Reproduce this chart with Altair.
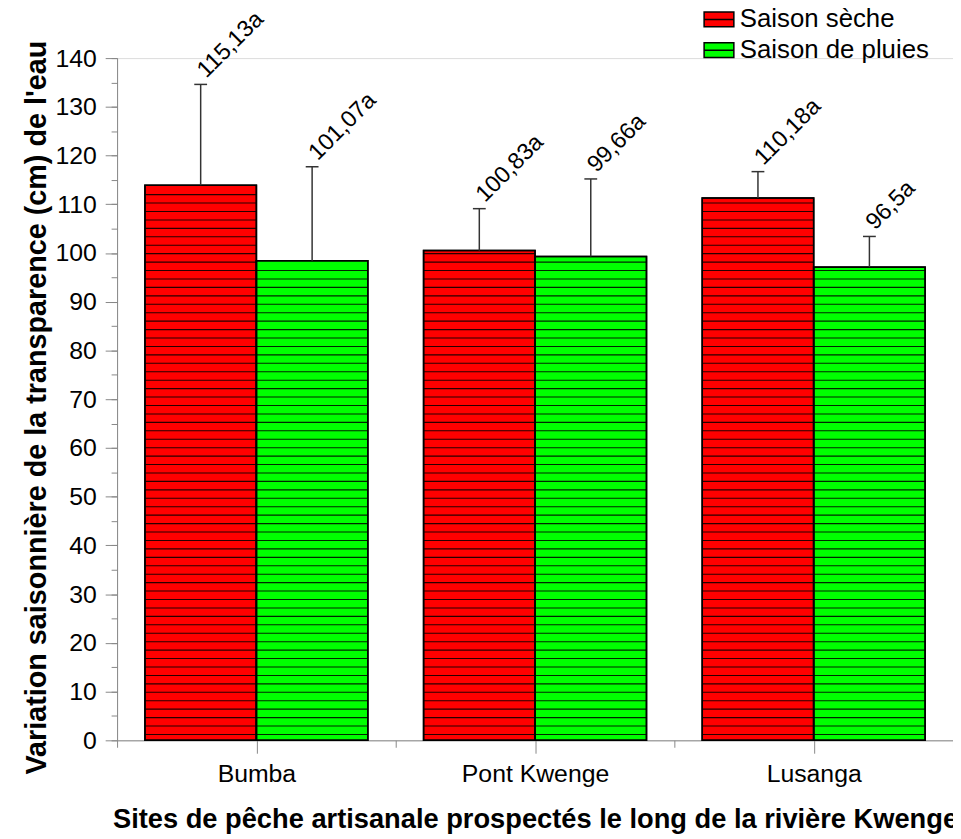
import altair as alt
import pandas as pd
import numpy as np

# ---- data ----
sites = ["Bumba", "Pont Kwenge", "Lusanga"]
seasons = ["Saison sèche", "Saison de pluies"]
dry_mean = [113.9, 100.5, 111.3]
wet_mean = [98.4, 99.3, 97.1]
dry_sd = [20.7, 8.6, 5.4]
wet_sd = [19.3, 15.9, 6.3]
dry_labels = ["115,13a", "100,83a", "110,18a"]
wet_labels = ["101,07a", "99,66a", "96,5a"]
colors = ["#FF0000", "#00FF00"]
y_major = list(range(0, 141, 10))
y_minor = list(range(0, 141, 5))
x_major = [1, 2, 3]
x_minor = [0.5, 1.5, 2.5, 3.5]

FONT = "Liberation Sans"

rows = []
for i, s in enumerate(sites):
    rows.append(dict(site=s, idx=i + 1, season=seasons[0], mean=dry_mean[i], sd=dry_sd[i],
                     label=dry_labels[i], off=-0.4))
    rows.append(dict(site=s, idx=i + 1, season=seasons[1], mean=wet_mean[i], sd=wet_sd[i],
                     label=wet_labels[i], off=0.0))
df = pd.DataFrame(rows)

# decorative horizontal hatching inside each bar
hatch_step = 1.731
hatch_rows = []
for r in rows:
    lv = 1.2
    while lv < r["mean"] - 0.3:
        hatch_rows.append(dict(idx=r["idx"], off=r["off"], level=lv))
        lv += hatch_step
hatch = pd.DataFrame(hatch_rows)

xscale = alt.Scale(domain=[0.5, 3.5], nice=False, zero=False)
yscale = alt.Scale(domain=[0, 140], nice=False)

major_x = alt.Axis(values=x_major,
                   labelExpr="['', 'Bumba', 'Pont Kwenge', 'Lusanga'][datum.value]",
                   tickSize=13, labelPadding=9, labelFontSize=25, labelFont=FONT,
                   title="Sites de pêche artisanale prospectés le long de la rivière Kwenge",
                   titleFontSize=27.5, titleFont=FONT, titleFontWeight="bold", titlePadding=19,
                   grid=False, orient="bottom")
minor_x = alt.Axis(values=x_minor, tickSize=7, labels=False, domain=False, title=None,
                   grid=False, orient="bottom")
major_y = alt.Axis(values=y_major, tickSize=12, labelPadding=9, labelFontSize=25, labelFont=FONT,
                   title="Variation saisonnière de la transparence (cm) de l'eau",
                   titleFontSize=29, titleFont=FONT, titleFontWeight="bold", titlePadding=3,
                   titleY=352,
                   grid=False, orient="left")
minor_y = alt.Axis(values=y_minor, tickSize=6, labels=False, domain=False, title=None,
                   grid=False, orient="left")

base = alt.Chart(df).transform_calculate(
    x0="datum.idx + datum.off",
    x1="datum.idx + datum.off + 0.4",
    xc="datum.idx + datum.off + 0.2",
    capL="datum.idx + datum.off + 0.2 - 0.023",
    capR="datum.idx + datum.off + 0.2 + 0.023",
    top="datum.mean + datum.sd",
)

bars = base.mark_rect(stroke="black", strokeWidth=1.5).encode(
    x=alt.X("x0:Q", scale=xscale, axis=major_x),
    x2="x1:Q",
    y=alt.Y("mean:Q", scale=yscale, axis=major_y),
    y2=alt.datum(0),
    color=alt.Color("season:N",
                    scale=alt.Scale(domain=seasons, range=colors),
                    legend=alt.Legend(title=None, orient="none", legendX=591, legendY=-55,
                                      symbolType="M-1,-0.5H1V0.5H-1Z M-1,0H1",
                                      symbolSize=900, symbolStrokeColor="black",
                                      symbolStrokeWidth=1.5, symbolOpacity=1,
                                      labelFontSize=26, labelFont=FONT, labelOffset=5,
                                      rowPadding=2, padding=0, labelLimit=400)),
)

hatch_layer = alt.Chart(hatch).transform_calculate(
    x0="datum.idx + datum.off",
    x1="datum.idx + datum.off + 0.4",
).mark_rule(color="black", strokeWidth=1.1, opacity=0.85).encode(
    x=alt.X("x0:Q", scale=xscale, axis=None),
    x2="x1:Q",
    y=alt.Y("level:Q", scale=yscale, axis=minor_y),
)

outline = base.mark_rect(fill=None, stroke="black", strokeWidth=1.6).encode(
    x=alt.X("x0:Q", scale=xscale, axis=None),
    x2="x1:Q",
    y=alt.Y("mean:Q", scale=yscale, axis=None),
    y2=alt.datum(0),
)

err = base.mark_rule(color="#333333", strokeWidth=1.5).encode(
    x=alt.X("xc:Q", scale=xscale, axis=minor_x),
    y=alt.Y("mean:Q", scale=yscale, axis=None),
    y2="top:Q",
)

caps = base.mark_rule(color="#333333", strokeWidth=1.5).encode(
    x=alt.X("capL:Q", scale=xscale, axis=None),
    x2="capR:Q",
    y=alt.Y("top:Q", scale=yscale, axis=None),
)

labels = base.mark_text(angle=315, align="left", baseline="alphabetic", dx=8, dy=0,
                        fontSize=23.5, font=FONT, color="black").encode(
    x=alt.X("xc:Q", scale=xscale, axis=None),
    y=alt.Y("top:Q", scale=yscale, axis=None),
    text="label:N",
)

chart = alt.layer(bars, hatch_layer, outline, err, caps, labels).resolve_axis(
    x="independent", y="independent"
).properties(
    width=843, height=688,
    autosize=alt.AutoSizeParams(type="none"),
    padding={"left": 110, "top": 47, "right": 0, "bottom": 96},
    background="white",
).configure_view(stroke=None).configure_axis(
    domainColor="black", domainWidth=2, tickColor="black", tickWidth=2,
    labelColor="black", titleColor="black",
).configure(font=FONT)

chart.save("out.html", embed_options={"renderer": "svg", "actions": False})
